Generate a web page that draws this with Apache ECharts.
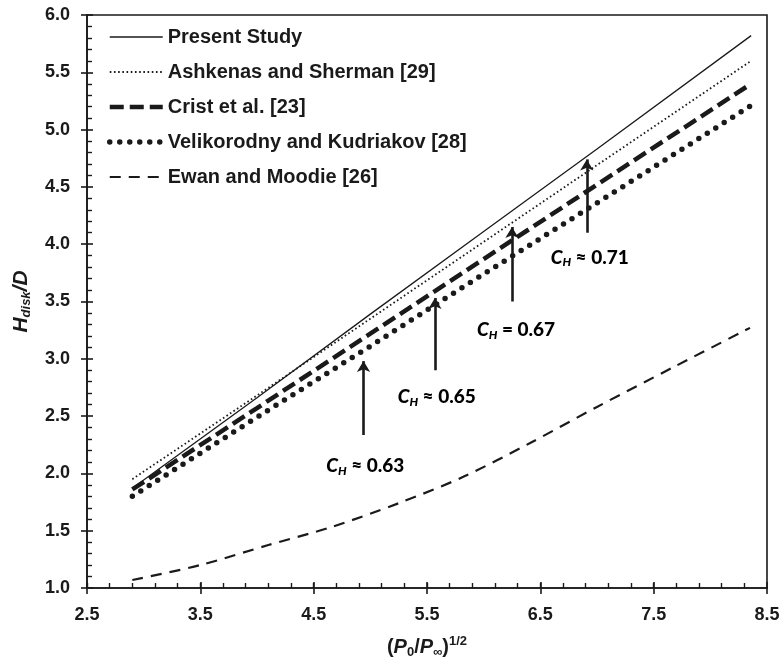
<!DOCTYPE html>
<html>
<head>
<meta charset="utf-8">
<script src="https://cdn.jsdelivr.net/npm/echarts@6/dist/echarts.min.js"></script>
<style>
  html, body { margin: 0; padding: 0; background: #fff; }
  #chart { width: 783px; height: 666px; }
</style>
</head>
<body>
<div id="chart"></div>
<script>
// 数据  (x = (P0/P∞)^1/2, y = Hdisk/D)
const xTicks = [2.5, 3.5, 4.5, 5.5, 6.5, 7.5, 8.5];
const seriesNames = [
  "Present Study",
  "Ashkenas and Sherman [29]",
  "Crist et al. [23]",
  "Velikorodny and Kudriakov [28]",
  "Ewan and Moodie [26]"
];
const presentStudy = [[2.9, 1.87], [4.0, 2.66], [5.0, 3.39], [6.0, 4.11], [7.0, 4.83], [8.36, 5.82]];
const ashkenas = [[2.9, 1.95], [4.0, 2.68], [5.0, 3.35], [6.0, 4.02], [7.0, 4.69], [8.36, 5.60]];
const crist = [[2.9, 1.86], [4.0, 2.57], [5.0, 3.22], [6.0, 3.87], [7.0, 4.52], [8.36, 5.40]];
const velikorodny = [[2.9, 1.80], [4.0, 2.49], [5.0, 3.11], [6.0, 3.74], [7.0, 4.36], [8.36, 5.21]];
const ewan = [[2.9, 1.07], [3.5, 1.20], [4.1, 1.375], [4.65, 1.53], [5.25, 1.74], [5.82, 1.97],
  [6.41, 2.265], [7.0, 2.58], [7.7, 2.94], [8.35, 3.27]];

// 箭头 + 标注
const arrowX = [4.94, 5.57, 6.25, 6.91];
const arrowFrom = [2.335, 2.90, 3.50, 4.10];
const arrowTo = [2.98, 3.53, 4.15, 4.74];
const labelX = [4.96, 5.59, 6.29, 6.94];
const labelY = [2.06, 2.66, 3.25, 3.88];
const labelSign = ["≈", "≈", "=", "≈"];
const labelValue = ["0.63", "0.65", "0.67", "0.71"];

// 次刻度
const xMinor = [];
for (let v = 2.5; v < 8.5; v += 0.2) xMinor.push(Math.round(v * 10) / 10);

const FONT = "Liberation Sans";
const INK = "#1a1a1a";

const lineStyles = [
  { color: INK, width: 1.3, type: "solid" },
  { color: INK, width: 1.8, type: [1.6, 2.6] },
  { color: INK, width: 4.5, type: [14, 6] },
  { color: INK, width: 5.5, type: [0, 10], cap: "round" },
  { color: INK, width: 2.2, type: [11, 8] }
];
const seriesData = [presentStudy, ashkenas, crist, velikorodny, ewan];

let series = seriesData.map((d, i) => ({
  name: seriesNames[i],
  type: "line",
  data: d,
  symbol: "none",
  smooth: i === 4 ? 0.3 : false,
  lineStyle: lineStyles[i],
  itemStyle: { color: INK },
  silent: true,
  z: 5 - i
}));

series.push({
  type: "line",
  data: [],
  silent: true,
  markLine: {
    silent: true,
    symbol: ["none", "arrow"],
    symbolSize: [10, 11],
    label: { show: false },
    itemStyle: { color: INK },
    lineStyle: { color: INK, width: 2.6, type: "solid" },
    data: arrowX.map((x, i) => [{ coord: [x, arrowFrom[i]] }, { coord: [x, arrowTo[i]] }])
  }
});

const labelRich = {
  c: { fontFamily: "Lato", fontWeight: 900, fontStyle: "italic", fontSize: 19, color: "#000", lineHeight: 22 },
  h: { fontFamily: "Lato", fontWeight: 900, fontStyle: "italic", fontSize: 12, color: "#000", lineHeight: 12, verticalAlign: "bottom" },
  t: { fontFamily: "Lato", fontWeight: 900, fontSize: 19, color: "#000", lineHeight: 22 }
};

series.push({
  type: "scatter",
  data: labelX.map((x, i) => [x, labelY[i], i]),
  symbol: "circle",
  symbolSize: 1,
  silent: true,
  z: 10,
  itemStyle: { opacity: 1, color: "rgba(0,0,0,0)" },
  label: {
    show: true,
    position: [0, 0],
    align: "center",
    verticalAlign: "middle",
    color: "#000",
    formatter: p => "{c|C}{h|H}{t| " + labelSign[p.value[2]] + " " + labelValue[p.value[2]] + "}",
    rich: labelRich
  }
});

const axisLineStyle = { show: true, lineStyle: { color: INK, width: 1.6 } };

const option = {
  animation: false,
  backgroundColor: "#fff",
  grid: {
    left: 87, right: 16, top: 15, bottom: 78,
    show: true, borderColor: INK, borderWidth: 1.6, backgroundColor: "transparent"
  },
  legend: {
    orient: "vertical",
    left: 102, top: 22,
    itemWidth: 53, itemHeight: 14, itemGap: 15,
    itemStyle: { opacity: 0 },
    data: seriesNames.map((n, i) => ({ name: n, lineStyle: lineStyles[i], itemStyle: { opacity: 0 } })),
    selectedMode: false,
    textStyle: { fontFamily: FONT, fontWeight: "bold", fontSize: 20, color: INK }
  },
  xAxis: [
    {
      type: "value", min: 2.5, max: 8.5, position: "bottom",
      axisLine: axisLineStyle,
      axisTick: { show: true, inside: true, length: 6, customValues: xTicks, lineStyle: { color: INK, width: 1.6 } },
      axisLabel: {
        customValues: xTicks, margin: 18,
        formatter: v => v.toFixed(1),
        fontFamily: FONT, fontWeight: "bold", fontSize: 18, color: INK
      },
      splitLine: { show: false },
      name: "{n|(}{i|P}{s|0}{n|/}{i|P}{s|∞}{n|)}{u|1/2}",
      nameLocation: "middle",
      nameGap: 47,
      nameTextStyle: {
        rich: {
          n: { fontFamily: FONT, fontWeight: "bold", fontSize: 20, color: INK, lineHeight: 24 },
          i: { fontFamily: FONT, fontWeight: "bold", fontStyle: "italic", fontSize: 20, color: INK, lineHeight: 24 },
          s: { fontFamily: FONT, fontWeight: "bold", fontSize: 13, color: INK, lineHeight: 13, verticalAlign: "bottom" },
          u: { fontFamily: FONT, fontWeight: "bold", fontSize: 13, color: INK, lineHeight: 13, verticalAlign: "top" }
        }
      }
    },
    {
      type: "value", min: 2.5, max: 8.5, position: "bottom",
      axisLine: { show: false },
      axisTick: { show: true, inside: false, length: 6, customValues: xTicks, lineStyle: { color: INK, width: 1.6 } },
      axisLabel: { show: false },
      splitLine: { show: false }
    },
    {
      type: "value", min: 2.5, max: 8.5, position: "bottom",
      axisLine: { show: false },
      axisTick: { show: true, inside: true, length: 5, customValues: xMinor, lineStyle: { color: INK, width: 1.4 } },
      axisLabel: { show: false },
      splitLine: { show: false }
    }
  ],
  yAxis: [
    {
      type: "value", min: 1, max: 6, interval: 0.5, position: "left",
      axisLine: axisLineStyle,
      axisTick: { show: true, inside: true, length: 6, lineStyle: { color: INK, width: 1.6 } },
      minorTick: { show: true, splitNumber: 5, length: 5, lineStyle: { color: INK, width: 1.4 } },
      axisLabel: {
        margin: 17,
        formatter: v => v.toFixed(1),
        fontFamily: FONT, fontWeight: "bold", fontSize: 18, color: INK
      },
      splitLine: { show: false },
      name: "{i|H}{s|disk}{i|/D}",
      nameLocation: "middle",
      nameGap: 54,
      nameTextStyle: {
        rich: {
          i: { fontFamily: FONT, fontWeight: "bold", fontStyle: "italic", fontSize: 21, color: INK, lineHeight: 24 },
          s: { fontFamily: FONT, fontWeight: "bold", fontStyle: "italic", fontSize: 13, color: INK, lineHeight: 13, verticalAlign: "bottom" }
        }
      }
    },
    {
      type: "value", min: 1, max: 6, interval: 0.5, position: "left",
      axisLine: { show: false },
      axisTick: { show: true, inside: false, length: 6, lineStyle: { color: INK, width: 1.6 } },
      axisLabel: { show: false },
      splitLine: { show: false }
    }
  ],
  series: series
};

const chart = echarts.init(document.getElementById("chart"));
chart.setOption(option);
</script>
</body>
</html>
